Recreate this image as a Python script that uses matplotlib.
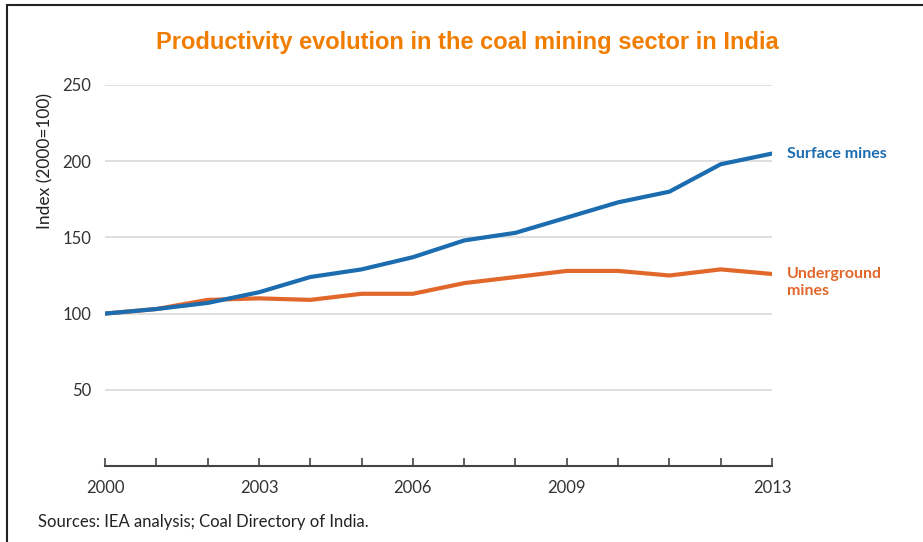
import matplotlib.pyplot as plt
from matplotlib.patches import Rectangle

years = list(range(2000, 2014))
surface = [100, 103, 107, 114, 124, 129, 137, 148, 153, 163, 173, 180, 198, 205]
underground = [100, 103, 109, 110, 109, 113, 113, 120, 124, 128, 128, 125, 129, 126]
year_labels = [2000, 2003, 2006, 2009, 2013]
y_ticks = [50, 100, 150, 200, 250]

blue = '#1b6db0'
orange = '#e2672a'
text_gray = '#333333'

plt.rcParams['font.family'] = ['Lato', 'DejaVu Sans']

fig = plt.figure(figsize=(9.23, 5.42), dpi=100)
ax = fig.add_axes([0.1138, 0.1402, 0.7226, 0.703])

# grid lines
for v in y_ticks:
    ax.axhline(v, color='#d9d9d9', linewidth=1.2, zorder=1)

ax.plot(years, underground, color=orange, linewidth=3, zorder=3)
ax.plot(years, surface, color=blue, linewidth=3, zorder=3)

ax.set_xlim(2000, 2013)
ax.set_ylim(0, 250)
ax.set_yticks(y_ticks)
ax.set_xticks(years, minor=True)
ax.set_xticks(year_labels)
ax.set_xticklabels([str(y) for y in year_labels])

for s in ['top', 'right', 'left']:
    ax.spines[s].set_visible(False)
ax.spines['bottom'].set_color('#444444')
ax.spines['bottom'].set_linewidth(1.5)

ax.tick_params(axis='y', length=0, pad=10, labelsize=12, labelcolor=text_gray)
ax.tick_params(axis='x', which='both', direction='in', length=6, width=1.2,
               color='#444444', pad=10, labelsize=12, labelcolor=text_gray)

ax.set_ylabel('Index (2000=100)', fontsize=12.5, color='#222222', labelpad=8)
ax.yaxis.set_label_coords(-0.078, 0.80)

# series labels at line ends
ax.annotate('Surface mines', xy=(2013, surface[-1]), xytext=(11, 0),
            textcoords='offset points', color=blue, fontsize=11.5,
            fontweight='bold', va='center', ha='left')
ax.annotate('Underground\nmines', xy=(2013, underground[-1]), xytext=(11, -6),
            textcoords='offset points', color=orange, fontsize=11.5,
            fontweight='bold', va='center', ha='left', linespacing=1.25)

fig.text(0.506, 0.922, 'Productivity evolution in the coal mining sector in India',
         ha='center', va='center', fontsize=17, fontweight='bold',
         color='#f07d00', family=['Liberation Sans', 'DejaVu Sans'])
fig.text(0.041, 0.037, 'Sources: IEA analysis; Coal Directory of India.',
         ha='left', va='center', fontsize=12, color='#222222')

# outer frame (top and left edges visible)
fig.add_artist(Rectangle((7 / 923, -0.1), 1.2, 1.1 - 5 / 542,
                         transform=fig.transFigure, fill=False,
                         edgecolor='#222222', linewidth=1.5))

fig.savefig('out.png', dpi=100)
